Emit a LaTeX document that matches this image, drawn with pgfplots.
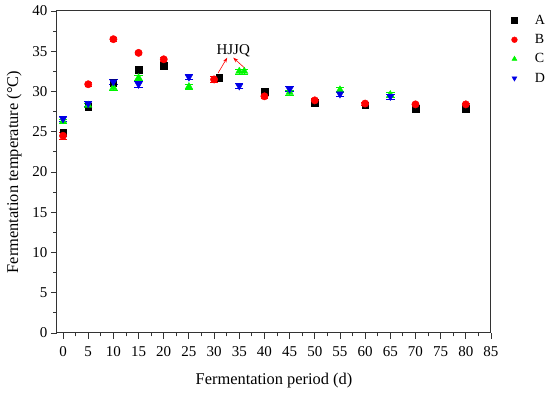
\documentclass[border=0pt]{standalone}
\usepackage{fontspec}
\setmainfont{Liberation Serif}
\usepackage{pgfplots}
\pgfplotsset{compat=1.18}
\usetikzlibrary{arrows.meta}
\definecolor{cA}{RGB}{0,0,0}
\definecolor{cB}{RGB}{255,0,0}
\definecolor{cC}{RGB}{0,245,0}
\definecolor{cD}{RGB}{0,0,230}
\begin{document}
\begin{tikzpicture}
\begin{axis}[
  at={(0,0)}, anchor=south west,
  scale only axis, width=434pt, height=322pt,
  xmin=-1.2, xmax=85, ymin=0, ymax=40,
  xtick={0,5,...,85}, ytick={0,5,...,40},
  minor x tick num=1, minor y tick num=1,
  tick align=outside, tick pos=left,
  major tick length=6pt, minor tick length=3.5pt,
  axis line style={line width=1pt, black!80},
  every tick/.style={line width=0.9pt, black!80},
  /pgf/number format/assume math mode=true,
  tick label style={font=\fontsize{15}{15}\selectfont},
  xticklabel style={yshift=-4pt},
  label style={font=\fontsize{16.4}{17}\selectfont},
  xlabel={Fermentation period (d)},
  ylabel={Fermentation temperature (\textdegree C)},
  xlabel style={yshift=-10pt},
  ylabel style={yshift=4pt},
  legend style={at={(1,1)}, xshift=16pt, anchor=north west, draw=none, fill=none,
    font=\fontsize{14}{14}\selectfont, row sep=4.5pt},
  legend cell align=left,
  legend image code/.code={\path[draw=none,fill=none] (0cm,0cm) rectangle (0.8cm,0.01cm); \draw[#1, mark size=2.9pt] plot coordinates {(0.15cm,0cm)};},
  error bars/error bar style={line width=0.6pt},
]
\addplot[only marks, mark=square*, mark size=3.3pt, color=cA,
  error bars/.cd, y dir=both, y explicit] coordinates {
  (0,24.9) +- (0,0.3) (5,28.1) +- (0,0.3) (10,31.1) +- (0,0.3) (15,32.7) +- (0,0.3)
  (20,33.2) +- (0,0.3) (31,31.7) +- (0,0.3) (40,30.0) +- (0,0.2) (50,28.6) +- (0,0.3)
  (60,28.3) +- (0,0.2) (70,27.9) +- (0,0.2) (80,27.9) +- (0,0.2)};
\addlegendentry{A}
\addplot[only marks, mark=*, mark size=3.7pt, color=cB,
  error bars/.cd, y dir=both, y explicit] coordinates {
  (0,24.5) +- (0,0.4) (5,30.9) +- (0,0.2) (10,36.5) +- (0,0.2) (15,34.8) +- (0,0.2)
  (20,34.0) +- (0,0.2) (30,31.5) +- (0,0.4) (40,29.4) +- (0,0.2) (50,28.9) +- (0,0.3)
  (60,28.5) +- (0,0.2) (70,28.4) +- (0,0.2) (80,28.4) +- (0,0.2)};
\addlegendentry{B}
\addplot[only marks, mark=triangle*, mark size=4.2pt, color=cC,
  error bars/.cd, y dir=both, y explicit] coordinates {
  (0,26.3) +- (0,0.3) (5,28.3) +- (0,0.3) (10,30.5) +- (0,0.4) (15,31.7) +- (0,0.3)
  (25,30.6) +- (0,0.3) (35,32.5) +- (0,0.3) (36,32.5) +- (0,0.3) (45,29.9) +- (0,0.3)
  (55,30.2) +- (0,0.3) (65,29.6) +- (0,0.3)};
\addlegendentry{C}
\addplot[only marks, mark=triangle*, mark options={rotate=180}, mark size=4.2pt, color=cD,
  error bars/.cd, y dir=both, y explicit] coordinates {
  (0,26.6) +- (0,0.3) (5,28.5) +- (0,0.3) (10,31.2) +- (0,0.3) (15,30.9) +- (0,0.4)
  (25,31.8) +- (0,0.3) (35,30.7) +- (0,0.3) (45,30.3) +- (0,0.3)
  (55,29.7) +- (0,0.3) (65,29.4) +- (0,0.3)};
\addlegendentry{D}
\node[font=\fontsize{15}{15}\selectfont] at (axis cs:33.8,35.1) {HJJQ};
\draw[cB, line width=0.6pt, -{Stealth[length=5pt,width=3.5pt]}] (axis cs:30.8,32.3) -- (axis cs:32.6,34.2);
\draw[cB, line width=0.6pt, -{Stealth[length=5pt,width=3.5pt]}] (axis cs:36.1,32.9) -- (axis cs:33.8,34.2);
\end{axis}
\pgfresetboundingbox
\path (-57pt,-60pt) rectangle (493pt,333pt);
\end{tikzpicture}
\end{document}
